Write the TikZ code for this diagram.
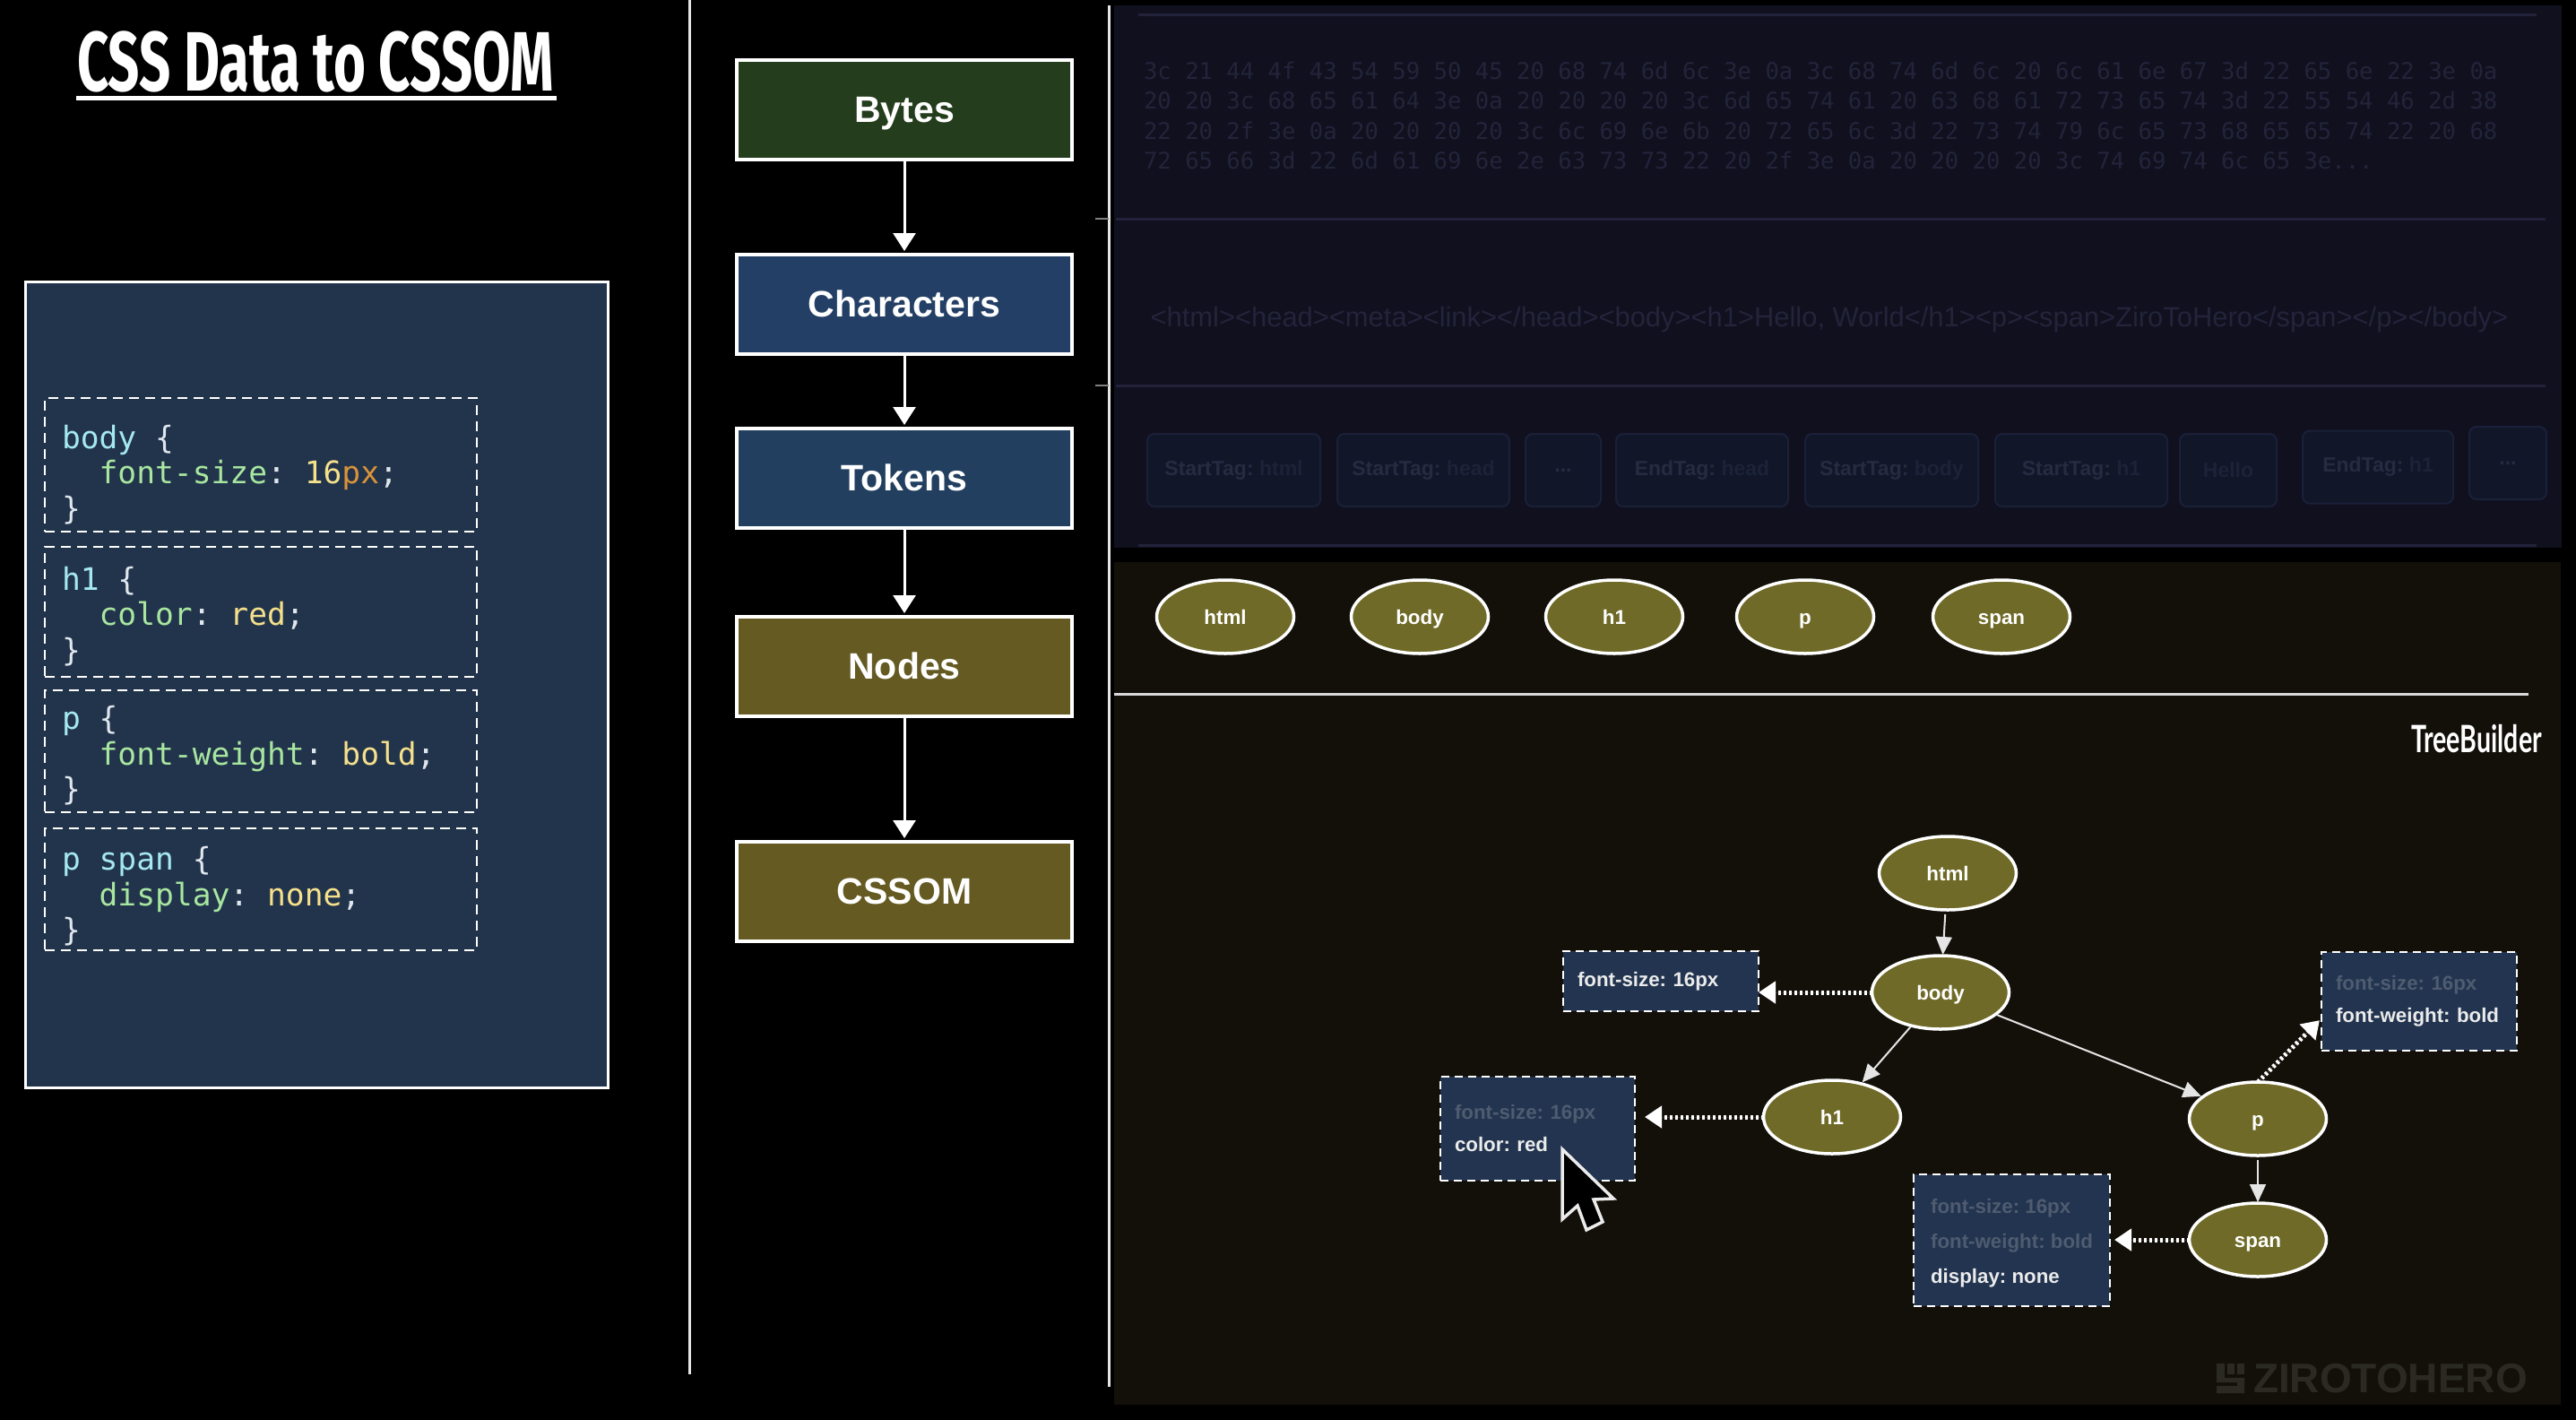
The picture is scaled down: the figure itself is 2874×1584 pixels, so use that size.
\documentclass[tikz,border=0pt]{standalone}
\usepackage{fontspec}
\setmainfont{Liberation Sans}
\setmonofont[WordSpace=1]{DejaVu Sans Mono}
\newfontfamily\titlefont[FakeStretch=0.655]{Fira Sans}
\newfontfamily\builderfont[FakeStretch=0.68]{Lato}
\usepackage{xcolor}
\usetikzlibrary{positioning,arrows.meta,shapes.geometric}

\definecolor{panelblue}{HTML}{22344B}
\definecolor{noteblue}{HTML}{22344F}
\definecolor{bytesgreen}{HTML}{243D1C}
\definecolor{charblue}{HTML}{233F65}
\definecolor{tokenblue}{HTML}{223F60}
\definecolor{nodeolive}{HTML}{655A22}
\definecolor{treeolive}{HTML}{6F6A27}
\definecolor{toppanel}{HTML}{10101F}
\definecolor{toprule}{HTML}{22223A}
\definecolor{toptext}{HTML}{22243A}
\definecolor{tokenfill}{HTML}{111729}
\definecolor{tokenline}{HTML}{1A2038}
\definecolor{tokentext}{HTML}{262B42}
\definecolor{tokendim}{HTML}{1C2238}
\definecolor{lowerpanel}{HTML}{13100A}
\definecolor{inherited}{HTML}{4F5C70}
\definecolor{markgrey}{HTML}{2B2A22}
\definecolor{cssname}{HTML}{A5E8F0}
\definecolor{cssprop}{HTML}{A8E6A0}
\definecolor{cssvalue}{HTML}{F5E08C}
\definecolor{cssunit}{HTML}{D9933A}
\definecolor{csspunct}{HTML}{DFE6EE}

\newcommand{\cssname}[1]{\textcolor{cssname}{#1}}
\newcommand{\cssprop}[1]{\textcolor{cssprop}{#1}}
\newcommand{\cssval}[1]{\textcolor{cssvalue}{#1}}
\newcommand{\cssunit}[1]{\textcolor{cssunit}{#1}}
\newcommand{\lowertext}[1]{\rule{0pt}{#1}}
\newcommand{\monogap}{\phantom{x}}

\begin{document}
\begin{tikzpicture}[
	x=1pt,y=-1pt,
	outer sep=0pt,
	flowbox/.style={
		draw=white,
		line width=3.5pt,
		text=white,
		minimum width=374pt,
		minimum height=111pt,
		text height=28pt,
		text depth=0pt,
		font=\fontsize{41}{45}\selectfont\bfseries
	},
	rulebox/.style={
		draw=white,
		dash pattern=on 11pt off 7pt,
		line width=2pt,
		text=csspunct,
		align=left,
		text width=444pt,
		inner xsep=19pt,
		inner ysep=0pt,
		font=\fontsize{34.6}{39.5}\selectfont\ttfamily\frenchspacing
	},
	treenode/.style={
		ellipse,
		draw=white,
		fill=treeolive,
		line width=3.5pt,
		text=white,
		inner sep=0pt,
		minimum width=153pt,
		minimum height=82pt,
		text height=16pt,
		text depth=0pt,
		font=\fontsize{22.4}{26}\selectfont\bfseries
	},
	notebox/.style={
		draw=white,
		fill=noteblue,
		dash pattern=on 9pt off 6pt,
		line width=2pt,
		text=white!92!black,
		align=left,
		inner xsep=16pt,
		inner ysep=0pt,
		font=\fontsize{22.3}{36}\selectfont\bfseries\frenchspacing
	},
	tokenbox/.style={
		draw=tokenline,
		fill=tokenfill,
		line width=2pt,
		rounded corners=8pt,
		text=tokentext,
		minimum height=81pt,
		inner xsep=0pt,
		font=\fontsize{23}{26}\selectfont\bfseries\frenchspacing
	},
	flowarrow/.style={-{Triangle[length=20pt,width=25pt]},line width=3pt,draw=white,fill=white},
	treearrow/.style={-{Triangle[length=20pt,width=18pt]},line width=2pt,draw=white!90!black,fill=white!90!black},
	notearrow/.style={-{Triangle[length=19pt,width=24pt]},line width=5pt,dash pattern=on 3pt off 3pt,draw=white,fill=white}
	]

	\useasboundingbox (0,0) rectangle (2874,1584);
	\fill[black] (0,0) rectangle (2874,1584);

	% title and css source
	\node[text=white,anchor=base,font=\fontsize{94}{100}\selectfont\titlefont\bfseries] (title) at (352,102) {CSS Data to CSSOM};
	\draw[white,line width=5pt] (85,110) -- (621,110);

	\node[draw=white,fill=panelblue,line width=3pt,minimum width=650pt,minimum height=899pt] (source) at (353,763.5) {};

	\node[rulebox,minimum height=149pt] (rulebody) at (291,518.5)
	{\lowertext{48pt}\cssname{body}\monogap\{\\ \phantom{xx}\cssprop{font-size}:\monogap\cssval{16}\cssunit{px};\\ \}};
	\node[rulebox,minimum height=145pt,below=17pt of rulebody] (ruleh) 
	{\lowertext{36pt}\cssname{h1}\monogap\{\\ \phantom{xx}\cssprop{color}:\monogap\cssval{red};\\ \}};
	\node[rulebox,minimum height=136pt,below=15pt of ruleh] (rulep) 
	{\lowertext{36pt}\cssname{p}\monogap\{\\ \phantom{xx}\cssprop{font-weight}:\monogap\cssval{bold};\\ \}};
	\node[rulebox,minimum height=136pt,below=18pt of rulep] (rulespan) 
	{\lowertext{42pt}\cssname{p\monogap span}\monogap\{\\ \phantom{xx}\cssprop{display}:\monogap\cssval{none};\\ \}};

	% dividers
	\draw[white!90!black,line width=3pt] (769,0) -- (769,1533);
	\draw[white!90!black,line width=3pt] (1237,6) -- (1237,1547);
	\draw[white!50!black,line width=1.5pt] (1222,244) -- (1237,244);
	\draw[white!50!black,line width=1.5pt] (1222,430) -- (1237,430);

	% pipeline
	\node[flowbox,fill=bytesgreen] (bytes) at (1009,122.5) {Bytes};
	\node[flowbox,fill=charblue,below=106pt of bytes] (chars) {Characters};
	\node[flowbox,fill=tokenblue,below=83pt of chars] (tokens) {Tokens};
	\node[flowbox,fill=nodeolive,below=99pt of tokens] (nodes) {Nodes};
	\node[flowbox,fill=nodeolive,below=140pt of nodes] (cssom) {CSSOM};

	\draw[flowarrow,shorten >=4pt] (bytes) -- (chars);
	\draw[flowarrow,shorten >=4pt] (chars) -- (tokens);
	\draw[flowarrow,shorten >=4pt] (tokens) -- (nodes);
	\draw[flowarrow,shorten >=4pt] (nodes) -- (cssom);

	% dimmed upper panel
	\fill[toppanel] (1243,6) rectangle (2858,611);
	\draw[toprule,line width=3pt] (1270,17) -- (2830,17);
	\draw[toprule,line width=3pt] (1245,244) -- (2840,244);
	\draw[toprule,line width=3pt] (1245,430) -- (2840,430);
	\draw[toprule,line width=3pt] (1270,608) -- (2830,608);

	\node[anchor=west,inner sep=0pt,align=left,text=toptext,font=\fontsize{25.6}{33.3}\selectfont\ttfamily] (hexdump) at (1276,129)
	{3c 21 44 4f 43 54 59 50 45 20 68 74 6d 6c 3e 0a 3c 68 74 6d 6c 20 6c 61 6e 67 3d 22 65 6e 22 3e 0a\\
	20 20 3c 68 65 61 64 3e 0a 20 20 20 20 3c 6d 65 74 61 20 63 68 61 72 73 65 74 3d 22 55 54 46 2d 38\\
	22 20 2f 3e 0a 20 20 20 20 3c 6c 69 6e 6b 20 72 65 6c 3d 22 73 74 79 6c 65 73 68 65 65 74 22 20 68\\
	72 65 66 3d 22 6d 61 69 6e 2e 63 73 73 22 20 2f 3e 0a 20 20 20 20 3c 74 69 74 6c 65 3e...};

	\node[text=toptext,inner sep=0pt,font=\fontsize{30.9}{36}\selectfont] (rawhtml) at (2041,357)
	{<html><head><meta><link></head><body><h1>Hello, World</h1><p><span>ZiroToHero</span></p></body>};

	\node[tokenbox,minimum width=193pt] (tokena) at (1376.5,524.5) {StartTag: \textcolor{tokendim}{html}};
	\node[tokenbox,minimum width=192pt,right=19pt of tokena] (tokenb) {StartTag: \textcolor{tokendim}{head}};
	\node[tokenbox,minimum width=84pt,right=18pt of tokenb] (tokenc) {...};
	\node[tokenbox,minimum width=192pt,right=17pt of tokenc] (tokend) {EndTag: \textcolor{tokendim}{head}};
	\node[tokenbox,minimum width=193pt,right=19pt of tokend] (tokene) {StartTag: \textcolor{tokendim}{body}};
	\node[tokenbox,minimum width=192pt,right=19pt of tokene] (tokenf) {StartTag: \textcolor{tokendim}{h1}};
	\node[tokenbox,minimum width=108pt,right=14pt of tokenf] (tokeng) {\textcolor{tokendim}{Hello}};
	\node[tokenbox,minimum width=168pt,right=29pt of tokeng,yshift=3.5pt] (tokenh) {EndTag: \textcolor{tokendim}{h1}};
	\node[tokenbox,minimum width=86pt,right=18pt of tokeng,xshift=197pt,yshift=8pt] (tokeni) {...};

	% lower panel
	\fill[lowerpanel] (1243,627) rectangle (2857,1567);
	\draw[white!85!black,line width=3pt] (1243,774) -- (2821,774);

	\node[treenode] (listhtml) at (1367,688) {html};
	\node[treenode,right=64pt of listhtml] (listbody) {body};
	\node[treenode,right=64pt of listbody] (listh) {h1};
	\node[treenode,right=60pt of listh] (listp) {p};
	\node[treenode,right=66pt of listp] (listspan) {span};

	\node[text=white,inner sep=0pt,font=\fontsize{42}{46}\selectfont\builderfont\bfseries] (builder) at (2763,824) {TreeBuilder};

	% tree
	\node[treenode] (treehtml) at (2173,974) {html};
	\node[treenode] (treebody) at (2165,1107) {body};
	\node[treenode] (treeh) at (2044,1246) {h1};
	\node[treenode] (treep) at (2519,1248) {p};
	\node[treenode] (treespan) at (2519,1383) {span};

	\draw[treearrow,shorten <=5pt,shorten >=1pt] (treehtml) -- (treebody);
	\draw[treearrow,shorten <=2pt,shorten >=2pt] (treebody) -- (treeh);
	\draw[treearrow,shorten <=2pt,shorten >=2pt] (treebody) -- (treep);
	\draw[treearrow,shorten <=5pt,shorten >=1pt] (treep) -- (treespan);

	% computed styles
	\node[notebox,anchor=west,minimum width=218pt,minimum height=67pt,text width=186pt] (notebody) at (1744,1094.5)
	{font-size: 16px};
	\node[notebox,anchor=west,minimum width=217pt,minimum height=116pt,text width=185pt] (notehead) at (1607,1259)
	{\textcolor{inherited}{font-size: 16px}\\ color: red};
	\node[notebox,anchor=west,minimum width=218pt,minimum height=110pt,text width=186pt] (notep) at (2590,1117)
	{\textcolor{inherited}{font-size: 16px}\\ font-weight: bold};
	\node[notebox,anchor=west,minimum width=219pt,minimum height=147pt,font=\fontsize{22.3}{39}\selectfont\bfseries\frenchspacing] (notespan) at (2135,1383.5)
	{\lowertext{23pt}\textcolor{inherited}{font-size: 16px}\\ \textcolor{inherited}{font-weight: bold}\\ display: none};

	\draw[notearrow] (treebody.west) -- (treebody.west -| notebody.east);
	\draw[notearrow,shorten >=11pt] (treeh.west) -- (treeh.west -| notehead.east);
	\draw[notearrow,shorten >=5pt] (treespan.west) -- (treespan.west -| notespan.east);
	\draw[notearrow,shorten >=3pt] (treep.north) -- ([yshift=-19pt]notep.west);

	% pointer
	\draw[white!92!black,fill=black,line width=3.5pt,line join=miter] (1743,1282) -- (1800,1337) -- (1778,1338) -- (1788,1363) -- (1770,1372) -- (1760,1345) -- (1743,1360) -- cycle;

	% watermark
	\fill[markgrey] (2473,1521) rectangle (2482,1537);
	\fill[markgrey] (2485,1521) rectangle (2493,1533);
	\fill[markgrey] (2496,1521) rectangle (2504,1533);
	\fill[markgrey] (2473,1537) -- (2504,1537) -- (2504,1554) -- (2473,1554) -- (2473,1546) -- (2496,1546) -- (2496,1542) -- (2473,1542) -- cycle;
	\node[anchor=west,inner sep=0pt,text=markgrey,font=\fontsize{46}{50}\selectfont\bfseries] (mark) at (2514,1537.5) {ZIROTOHERO};
\end{tikzpicture}
\end{document}
